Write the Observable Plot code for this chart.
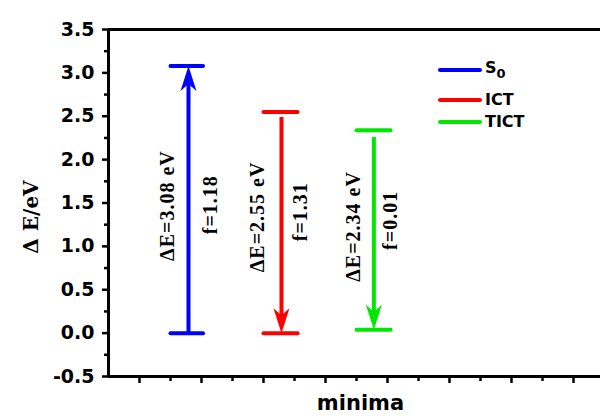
<!DOCTYPE html>
<html>
<head>
<meta charset="utf-8">
<script src="https://cdn.jsdelivr.net/npm/d3@7"></script>
<script src="https://cdn.jsdelivr.net/npm/@observablehq/plot@0.6"></script>
<style>
  body { margin: 0; background: #fff; }
  #wrap { position: relative; width: 600px; height: 419px; overflow: hidden; }
  g[font-family="Liberation Serif"] text { letter-spacing: 1px; }
  #legend { position: absolute; left: 438px; top: 58px; font-family: "DejaVu Sans"; font-weight: bold; font-size: 16px; color: #000; }
  #legend .row { position: absolute; left: 0; white-space: nowrap; display: flex; align-items: center; }
  #legend .sw { width: 44px; height: 4px; border-radius: 2px; margin-right: 3px; }
  #legend sub { font-size: 13px; vertical-align: -5px; }
</style>
</head>
<body>
<div id="wrap"><div id="legend"></div></div>
<script>
// ---- data ----
const states = ["S0", "ICT", "TICT"];
const colors = ["#0000ff", "#ff0000", "#00e800"];
const energies = [3.08, 2.55, 2.34];          // upper level (eV)
const lowerLevels = [0.0, 0.0, 0.04];         // lower level (eV)
const oscStrength = ["1.18", "1.31", "0.01"];
const energyText = ["3.08", "2.55", "2.34"];
const direction = ["up", "down", "down"];
const arrowTail = [0.0, 2.49, 2.26];
const arrowTip = [3.08, 0.0, 0.04];
const levelX1 = [2.0, 5.0, 8.0];
const levelX2 = [3.05, 6.1, 9.1];
const arrowX = [2.58, 5.58, 8.56];
const dELabelX = [1.9, 4.81, 7.9];
const dELabelY = [1.47, 1.34, 1.23];
const fLabelX = [3.29, 6.19, 9.1];
const fLabelY = [1.48, 1.40, 1.30];
const yMajor = [-0.5, 0, 0.5, 1, 1.5, 2, 2.5, 3, 3.5];
const yMinor = [-0.25, 0.25, 0.75, 1.25, 1.75, 2.25, 2.75, 3.25];
const xMajor = [1, 3, 5, 7, 9, 11, 13, 15];
const xMinor = [2, 4, 6, 8, 10, 12, 14];
const xLabel = "minima";
const yLabel = "Δ E/eV";

const rows = states.map((s, i) => ({
  s, color: colors[i], top: energies[i], bottom: lowerLevels[i],
  x1: levelX1[i], x2: levelX2[i], ax: arrowX[i],
  tail: arrowTail[i], tip: arrowTip[i], dir: direction[i],
  // shaft stops inside the head so the tip stays sharp
  shaftEnd: arrowTip[i] + (direction[i] === "up" ? -0.2 : 0.2),
  dE: "ΔE=" + energyText[i] + " eV", f: "f=" + oscStrength[i],
  dx: dELabelX[i], dy: dELabelY[i], fx: fLabelX[i], fy: fLabelY[i]
}));

const arrowHead = {
  draw(ctx) {
    ctx.moveTo(0, 0);
    ctx.lineTo(-8, -25);
    ctx.lineTo(0, -18);
    ctx.lineTo(8, -25);
    ctx.closePath();
  }
};

const serif = {fontFamily: "Liberation Serif", fontWeight: "bold", fontSize: 20, rotate: -90, fill: "black"};

const chart = Plot.plot({
  width: 600, height: 419,
  marginLeft: 108, marginRight: 0, marginTop: 29, marginBottom: 43,
  x: {domain: [0, 492 / 31]},
  y: {domain: [-0.5, 3.5]},
  style: {fontFamily: "DejaVu Sans", fontWeight: "bold", fontSize: "19px", color: "black", background: "white", overflow: "visible"},
  marks: [
    Plot.axisY(yMajor, {tickSize: 6, tickPadding: 8, strokeWidth: 2.5, tickFormat: d => d.toFixed(1), label: null, fontSize: 19}),
    Plot.axisY(yMinor, {tickSize: 4, strokeWidth: 2.5, tickFormat: () => "", label: null}),
    Plot.axisX(xMajor, {tickSize: 7, strokeWidth: 2.5, tickFormat: () => "", label: null}),
    Plot.axisX(xMinor, {tickSize: 5, strokeWidth: 2.5, tickFormat: () => "", label: null}),
    Plot.ruleX([0], {stroke: "black", strokeWidth: 3}),
    Plot.ruleY([-0.5], {stroke: "black", strokeWidth: 3}),
    Plot.ruleY([3.5], {stroke: "black", strokeWidth: 3}),
    // energy levels
    Plot.link(rows, {x1: "x1", x2: "x2", y1: "top", y2: "top", stroke: "color", strokeWidth: 4, strokeLinecap: "round"}),
    Plot.link(rows, {x1: "x1", x2: "x2", y1: "bottom", y2: "bottom", stroke: "color", strokeWidth: 4, strokeLinecap: "round"}),
    // arrows
    Plot.link(rows, {x1: "ax", x2: "ax", y1: "tail", y2: "shaftEnd", stroke: "color", strokeWidth: 4}),
    Plot.dot(rows, {x: "ax", y: "tip", symbol: arrowHead, fill: "color", stroke: null, rotate: d => d.dir === "up" ? 180 : 0}),
    // annotations
    Plot.text(rows, {x: "dx", y: "dy", text: "dE", ...serif}),
    Plot.text(rows, {x: "fx", y: "fy", text: "f", ...serif}),
    // axis titles
    Plot.text([xLabel], {frameAnchor: "bottom", lineAnchor: "bottom", dy: 33, dx: 6, fontSize: 21, fontFamily: "DejaVu Sans", fontWeight: "bold"}),
    Plot.text([yLabel], {frameAnchor: "left", textAnchor: "middle", rotate: -90, dx: -77, dy: 14, fontSize: 20, fontFamily: "DejaVu Serif", fontWeight: "bold"})
  ]
});
chart.style.color = "black";
document.getElementById("wrap").prepend(chart);

// legend
const legendTop = [10, 42, 64];
const legend = document.getElementById("legend");
states.forEach((s, i) => {
  const row = document.createElement("div");
  row.className = "row";
  row.style.top = (legendTop[i] - 10) + "px";
  const sw = document.createElement("div");
  sw.className = "sw";
  sw.style.background = colors[i];
  row.appendChild(sw);
  const lab = document.createElement("span");
  lab.innerHTML = s === "S0" ? "S<sub>0</sub>" : s;
  row.appendChild(lab);
  legend.appendChild(row);
});
</script>
</body>
</html>
